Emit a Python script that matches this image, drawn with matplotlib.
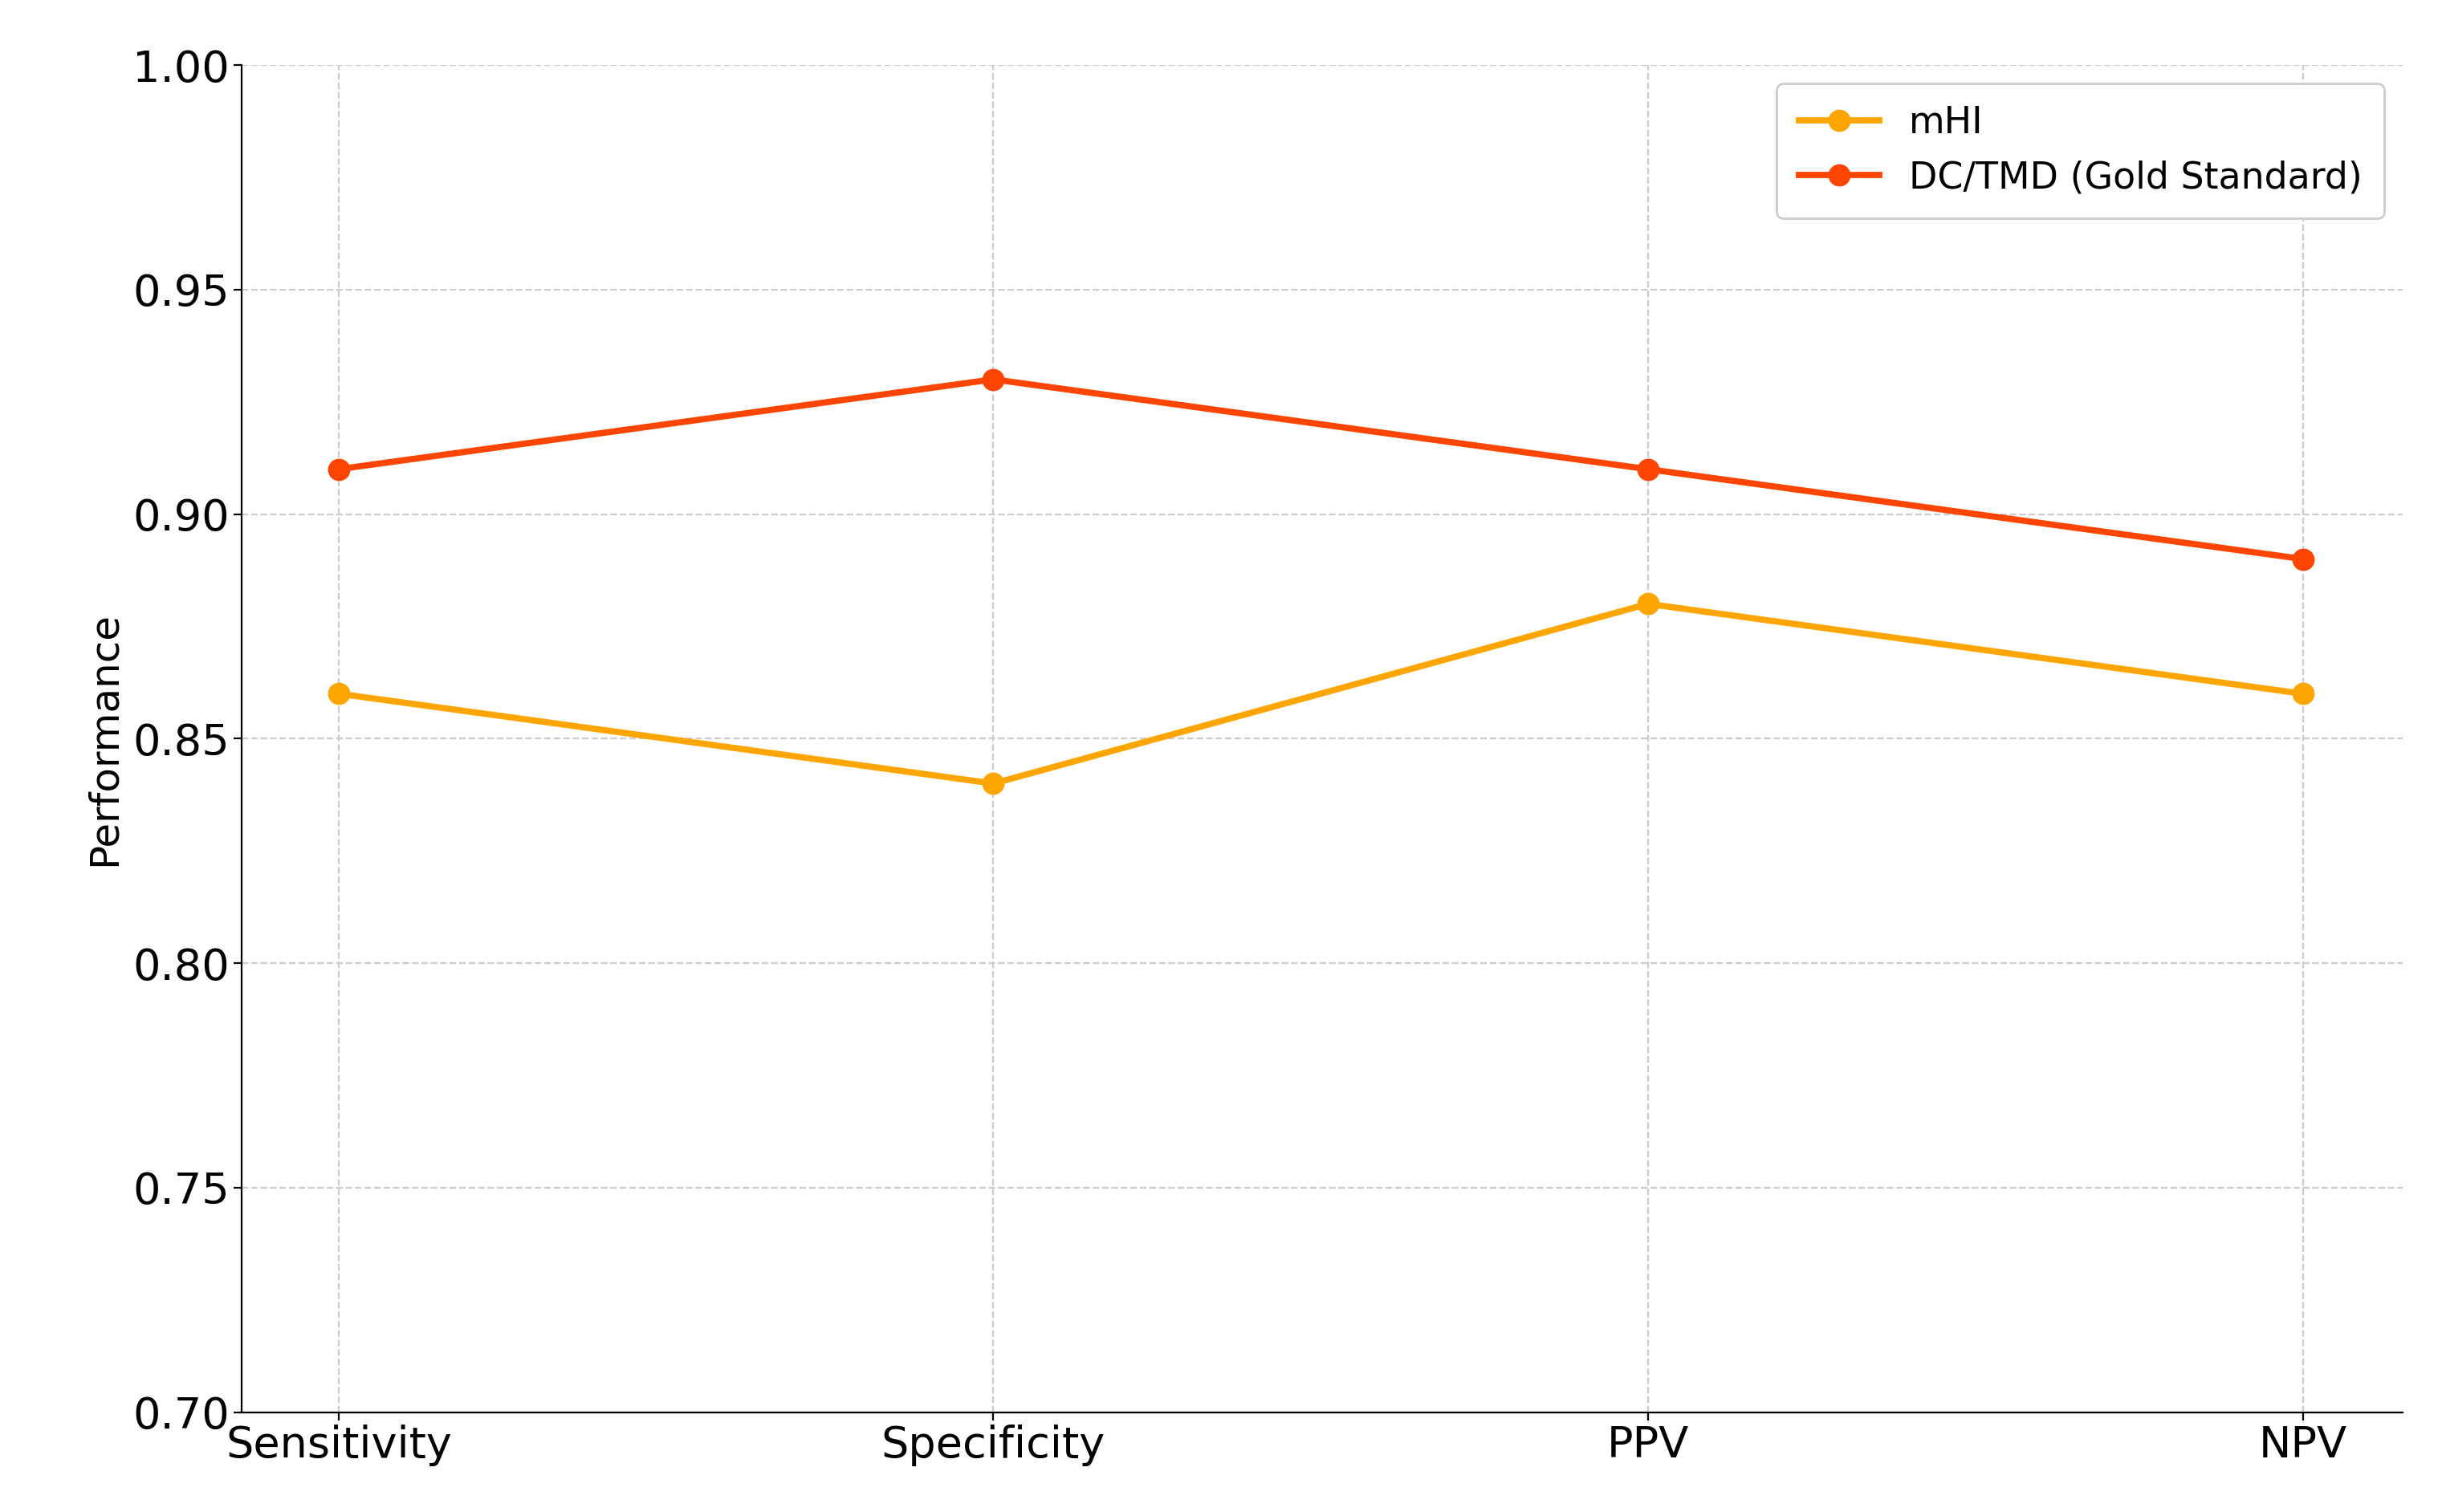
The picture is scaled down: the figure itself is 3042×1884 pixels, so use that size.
import matplotlib.pyplot as plt

categories = ["Sensitivity", "Specificity", "PPV", "NPV"]
mhi = [0.86, 0.84, 0.88, 0.86]
dc_tmd = [0.91, 0.93, 0.91, 0.89]
y_ticks = [0.70, 0.75, 0.80, 0.85, 0.90, 0.95, 1.00]

fig = plt.figure(figsize=(15.21, 9.42), dpi=200)
ax = fig.add_axes([0.099, 0.066, 0.885, 0.891])

x = list(range(len(categories)))
ax.plot(x, mhi, color="#FFA500", lw=2.8, marker="o", ms=9, label="mHI")
ax.plot(x, dc_tmd, color="#FF4500", lw=2.8, marker="o", ms=9, label="DC/TMD (Gold Standard)")

ax.set_xlim(-0.148, 3.153)
ax.set_ylim(0.70, 1.00)
ax.set_xticks(x)
ax.set_xticklabels(categories)
ax.set_yticks(y_ticks)
ax.set_yticklabels([f"{v:.2f}" for v in y_ticks])
ax.tick_params(labelsize=19.5, pad=2)
ax.set_ylabel("Performance", fontsize=18)
ax.grid(True, linestyle="--", color="#cccccc", lw=0.8)
for s in ["top", "right"]:
    ax.spines[s].set_visible(False)

ax.legend(loc="upper right", fontsize=16.5, framealpha=1, edgecolor="#cccccc",
          borderpad=0.6, handlelength=2.2)

fig.savefig("out.png", dpi=200)
